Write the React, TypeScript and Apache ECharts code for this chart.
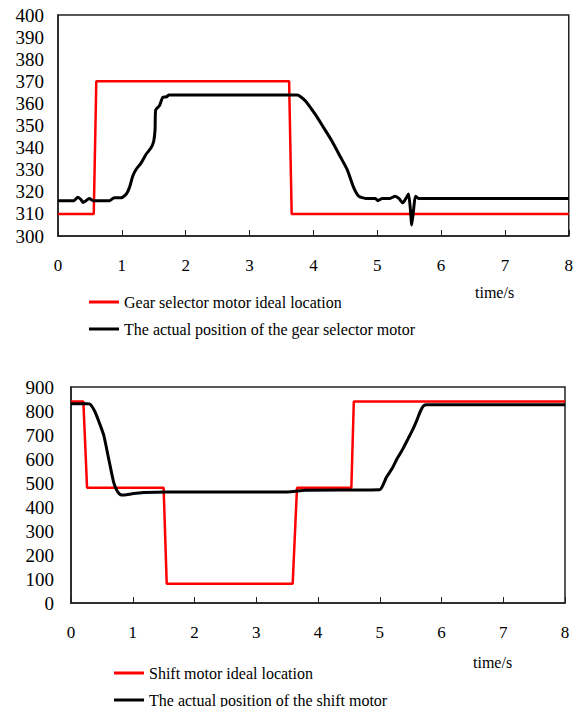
import React, { useEffect, useRef } from "react";
import * as echarts from "echarts";

// Top chart: gear selector motor
const gearIdealTime = [0, 0.56, 0.6, 3.62, 3.66, 8];
const gearIdealValue = [310, 310, 370, 370, 310, 310];
const gearActualTime = [
  0, 0.25, 0.31, 0.36, 0.39, 0.44, 0.49, 0.55, 0.81, 0.88, 0.99, 1.07, 1.12, 1.17,
  1.22, 1.3, 1.38, 1.46, 1.5, 1.52, 1.53, 1.59, 1.64, 1.7, 1.74, 3.75, 3.8, 3.88,
  4.03, 4.14, 4.29, 4.42, 4.53, 4.63, 4.71, 4.82, 4.97, 5.01, 5.08, 5.2, 5.28, 5.34,
  5.4, 5.45, 5.49, 5.52, 5.54, 5.57, 5.6, 5.65, 8,
];
const gearActualValue = [
  316, 316, 317.5, 316.5, 315.2, 316, 317, 316, 316, 317.3, 317.3, 319, 322, 327,
  330, 333, 337, 340, 343, 348, 357, 359, 362.7, 363, 363.8, 363.8, 363, 361,
  355, 350, 343, 336, 330, 322, 318, 317, 317, 316, 317, 317, 318, 317,
  315, 317, 319, 312, 305, 312, 318, 317, 317,
];

// Bottom chart: shift motor
const shiftIdealTime = [0, 0.2, 0.26, 1.5, 1.55, 3.59, 3.66, 4.54, 4.58, 8];
const shiftIdealValue = [840, 840, 480, 480, 80, 80, 480, 480, 840, 840];
const shiftActualTime = [
  0, 0.25, 0.31, 0.39, 0.46, 0.53, 0.61, 0.69, 0.74, 0.78, 0.82, 0.9, 0.99, 1.18,
  1.55, 3.5, 3.8, 5.0, 5.05, 5.11, 5.2, 5.28, 5.37, 5.46, 5.53, 5.6, 5.66, 5.71,
  5.76, 8,
];
const shiftActualValue = [
  830, 830, 828, 796, 750, 699, 601, 504, 470, 456, 450, 451, 455, 460,
  463, 463, 470, 472, 490, 525, 560, 601, 640, 685, 720, 761, 800, 822,
  826, 826,
];

const xTicks = [0, 1, 2, 3, 4, 5, 6, 7, 8];

const zip = (t: number[], v: number[]) => t.map((x, i) => [x, v[i]]);

const FONT = "'Liberation Serif', 'Times New Roman', serif";

export default function App() {
  const ref = useRef<HTMLDivElement>(null);
  useEffect(() => {
    if (!ref.current) return;
    const chart = echarts.init(ref.current, undefined, { renderer: "svg" });
    const xAxisBase = (gridIndex: number, margin: number) => ({
      type: "value" as const,
      gridIndex,
      min: xTicks[0],
      max: xTicks[xTicks.length - 1],
      interval: 1,
      axisLine: { show: true, lineStyle: { color: "#222", width: 1.5 } },
      axisTick: { show: true, inside: true, length: 6, lineStyle: { color: "#222", width: 1 } },
      axisLabel: { margin, color: "#000", fontFamily: FONT, fontSize: 17 },
      splitLine: { show: false },
    });
    const yAxisBase = (gridIndex: number, min: number, max: number, interval: number, margin: number) => ({
      type: "value" as const,
      gridIndex,
      min,
      max,
      interval,
      axisLine: { show: true, lineStyle: { color: "#222", width: 1.5 } },
      axisTick: { show: false },
      axisLabel: { margin, color: "#000", fontFamily: FONT, fontSize: 19 },
      splitLine: { show: false },
    });
    const legendBase = {
      orient: "vertical" as const,
      icon: "rect",
      itemWidth: 30,
      itemHeight: 3,
      itemGap: 11,
      padding: 0,
      height: 80,
      textStyle: { color: "#000", fontFamily: FONT, fontSize: 16, lineHeight: 16 },
    };
    chart.setOption({
      animation: false,
      backgroundColor: "#fff",
      grid: [
        { left: 58, top: 15, width: 513, height: 221, show: true, borderColor: "#222", borderWidth: 1.5, backgroundColor: "transparent" },
        { left: 71, top: 387, width: 494, height: 216, show: true, borderColor: "#222", borderWidth: 1.5, backgroundColor: "transparent" },
      ],
      xAxis: [xAxisBase(0, 21), xAxisBase(1, 21)],
      yAxis: [yAxisBase(0, 300, 400, 10, 14), yAxisBase(1, 0, 900, 100, 17)],
      legend: [
        { ...legendBase, left: 89, top: 294, data: ["Gear selector motor ideal location", "The actual position of the gear selector motor"] },
        { ...legendBase, left: 114, top: 665, data: ["Shift motor ideal location", "The actual position of the shift motor"] },
      ],
      graphic: [
        { type: "text", left: 475, top: 284, style: { text: "time/s", fontFamily: FONT, fontSize: 16, fill: "#000" } },
        { type: "text", left: 473, top: 654, style: { text: "time/s", fontFamily: FONT, fontSize: 16, fill: "#000" } },
      ],
      series: [
        {
          name: "Gear selector motor ideal location",
          type: "line",
          xAxisIndex: 0,
          yAxisIndex: 0,
          data: zip(gearIdealTime, gearIdealValue),
          showSymbol: false,
          lineStyle: { color: "#ff0000", width: 2.5 },
          itemStyle: { color: "#ff0000" },
        },
        {
          name: "The actual position of the gear selector motor",
          type: "line",
          xAxisIndex: 0,
          yAxisIndex: 0,
          data: zip(gearActualTime, gearActualValue),
          showSymbol: false,
          smooth: 0.2,
          lineStyle: { color: "#000", width: 3 },
          itemStyle: { color: "#000" },
        },
        {
          name: "Shift motor ideal location",
          type: "line",
          xAxisIndex: 1,
          yAxisIndex: 1,
          data: zip(shiftIdealTime, shiftIdealValue),
          showSymbol: false,
          lineStyle: { color: "#ff0000", width: 2.5 },
          itemStyle: { color: "#ff0000" },
        },
        {
          name: "The actual position of the shift motor",
          type: "line",
          xAxisIndex: 1,
          yAxisIndex: 1,
          data: zip(shiftActualTime, shiftActualValue),
          showSymbol: false,
          smooth: 0.2,
          lineStyle: { color: "#000", width: 3 },
          itemStyle: { color: "#000" },
        },
      ],
    });
    return () => chart.dispose();
  }, []);
  return (
    <div
      ref={ref}
      style={{ position: "fixed", left: 0, top: 0, width: 576, height: 707, background: "#fff" }}
    />
  );
}
